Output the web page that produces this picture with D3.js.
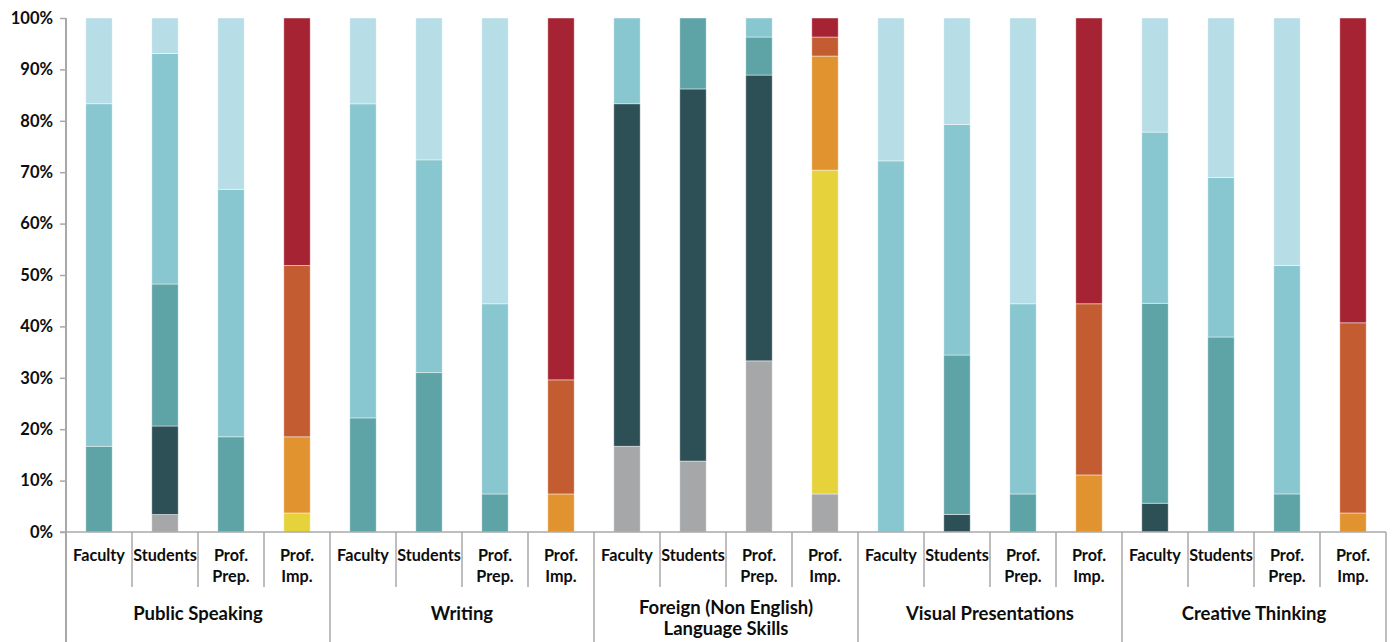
<!DOCTYPE html>
<html>
<head>
<meta charset="utf-8">
<script src="https://cdn.jsdelivr.net/npm/d3@7"></script>
<style>
  html, body { margin: 0; padding: 0; background: #fff; }
  svg { display: block; }
  text { font-family: Lato, "Open Sans", sans-serif; font-weight: 700; fill: #0d0d0d; }
</style>
</head>
<body>
<svg id="chart" width="1392" height="642"></svg>
<script>
// ---- Data ----
const groups = ["Public Speaking", "Writing", "Foreign (Non English)\nLanguage Skills", "Visual Presentations", "Creative Thinking"];
const categories = ["Faculty", "Students", "Prof.\nPrep.", "Prof.\nImp."];
const seriesKeys = ["N/A", "Level 1", "Level 2", "Level 3", "Level 4", "Imp. 1", "Imp. 2", "Imp. 3", "Imp. 4"];
// values per series, 20 bars in order (group x category), percent
const naVals      = [0, 3.4, 0, 0,     0, 0, 0, 0,        16.7, 13.8, 33.3, 7.4,  0, 0, 0, 0,        0, 0, 0, 0];
const level1Vals  = [0, 17.2, 0, 0,    0, 0, 0, 0,        66.7, 72.4, 55.6, 0,    0, 3.4, 0, 0,      5.6, 0, 0, 0];
const level2Vals  = [16.7, 27.6, 18.5, 0, 22.2, 31.0, 7.4, 0, 0, 13.8, 7.4, 0,   0, 31.0, 7.4, 0,   38.9, 37.9, 7.4, 0];
const level3Vals  = [66.7, 44.8, 48.1, 0, 61.1, 41.4, 37.0, 0, 16.7, 0, 3.7, 0,  72.2, 44.8, 37.0, 0, 33.3, 31.0, 44.4, 0];
const level4Vals  = [16.7, 6.9, 33.3, 0, 16.7, 27.6, 55.6, 0, 0, 0, 0, 0,        27.8, 20.7, 55.6, 0, 22.2, 31.0, 48.1, 0];
const imp1Vals    = [0, 0, 0, 3.7,     0, 0, 0, 0,        0, 0, 0, 63.0,        0, 0, 0, 0,        0, 0, 0, 0];
const imp2Vals    = [0, 0, 0, 14.8,    0, 0, 0, 7.4,      0, 0, 0, 22.2,        0, 0, 0, 11.1,     0, 0, 0, 3.7];
const imp3Vals    = [0, 0, 0, 33.3,    0, 0, 0, 22.2,     0, 0, 0, 3.7,         0, 0, 0, 33.3,     0, 0, 0, 37.0];
const imp4Vals    = [0, 0, 0, 48.1,    0, 0, 0, 70.4,     0, 0, 0, 3.7,         0, 0, 0, 55.6,     0, 0, 0, 59.3];
const yTickValues = [0, 0.1, 0.2, 0.3, 0.4, 0.5, 0.6, 0.7, 0.8, 0.9, 1.0];

// ---- Styles ----
const colors = ["#a6a7a9", "#2d4f56", "#5ea3a6", "#88c6d0", "#b7dde6", "#e6d23b", "#e0932f", "#c35d31", "#a52332"];
const axisColor = "#a8a8a8";

const allVals = [naVals, level1Vals, level2Vals, level3Vals, level4Vals, imp1Vals, imp2Vals, imp3Vals, imp4Vals];
const bars = [];
groups.forEach((g, gi) => categories.forEach((c, ci) => {
  const i = gi * categories.length + ci;
  const row = { id: i, group: g, category: c };
  seriesKeys.forEach((k, si) => row[k] = allVals[si][i]);
  bars.push(row);
}));

const svg = d3.select("#chart");
const mLeft = 66, mRight = 1386, mTop = 18, mBottom = 532, H = 642;

const x = d3.scaleBand().domain(bars.map(d => d.id)).range([mLeft, mRight])
  .paddingInner(0.6).paddingOuter(0.3);
const y = d3.scaleLinear().domain([0, 1]).range([mBottom, mTop]);
const color = d3.scaleOrdinal().domain(seriesKeys).range(colors);

const stacked = d3.stack().keys(seriesKeys).offset(d3.stackOffsetExpand)(bars);

svg.append("g").selectAll("g").data(stacked).join("g")
  .attr("fill", d => color(d.key))
  .selectAll("rect").data(d => d.filter(p => p[1] - p[0] > 1e-9)).join("rect")
  .attr("x", d => x(d.data.id))
  .attr("width", x.bandwidth())
  .attr("y", d => y(d[1]))
  .attr("height", d => y(d[0]) - y(d[1]))
  .attr("stroke", "rgba(255,255,255,0.55)")
  .attr("stroke-width", 0.8);

// Y axis
const yAxis = d3.axisLeft(y).tickValues(yTickValues).tickFormat(d3.format(".0%"))
  .tickSize(6).tickSizeOuter(0).tickPadding(7);
const ya = svg.append("g").attr("transform", `translate(${mLeft},0)`).call(yAxis);
ya.select(".domain").remove();
ya.selectAll(".tick line").attr("stroke", axisColor).attr("stroke-width", 1.5);
ya.selectAll(".tick text").style("font-size", "16.5px").attr("fill", "#0d0d0d");

// Vertical axis line (full height, continuing through label area)
svg.append("line").attr("x1", mLeft).attr("x2", mLeft).attr("y1", mTop).attr("y2", H)
  .attr("stroke", axisColor).attr("stroke-width", 2);
// Horizontal axis line
svg.append("line").attr("x1", mLeft - 6).attr("x2", mRight).attr("y1", mBottom).attr("y2", mBottom)
  .attr("stroke", axisColor).attr("stroke-width", 1.5);

const step = x.step();
// category separators
d3.range(1, bars.length + 1).forEach(i => {
  const xx = mLeft + i * step;
  const isGroup = i % categories.length === 0;
  svg.append("line").attr("x1", xx).attr("x2", xx).attr("y1", mBottom).attr("y2", isGroup ? H : 587)
    .attr("stroke", axisColor).attr("stroke-width", 1.5);
});

// category labels
svg.append("g").selectAll("text").data(bars).join("text")
  .attr("text-anchor", "middle")
  .attr("y", 561)
  .style("font-size", "16.2px")
  .each(function(d) {
    const cx = x(d.id) + x.bandwidth() / 2;
    const lines = d.category.split("\n");
    d3.select(this).selectAll("tspan").data(lines).join("tspan")
      .attr("x", cx)
      .attr("dy", (l, i) => i === 0 ? 0 : 21)
      .text(l => l);
  });

// group labels
svg.append("g").selectAll("text").data(groups).join("text")
  .attr("text-anchor", "middle")
  .style("font-size", "18.5px")
  .each(function(g, gi) {
    const cx = mLeft + (gi + 0.5) * step * categories.length;
    const lines = g.split("\n");
    const y0 = lines.length === 1 ? 620 : 614;
    d3.select(this).attr("y", y0).selectAll("tspan").data(lines).join("tspan")
      .attr("x", cx)
      .attr("dy", (l, i) => i === 0 ? 0 : 21)
      .text(l => l);
  });
</script>
</body>
</html>
